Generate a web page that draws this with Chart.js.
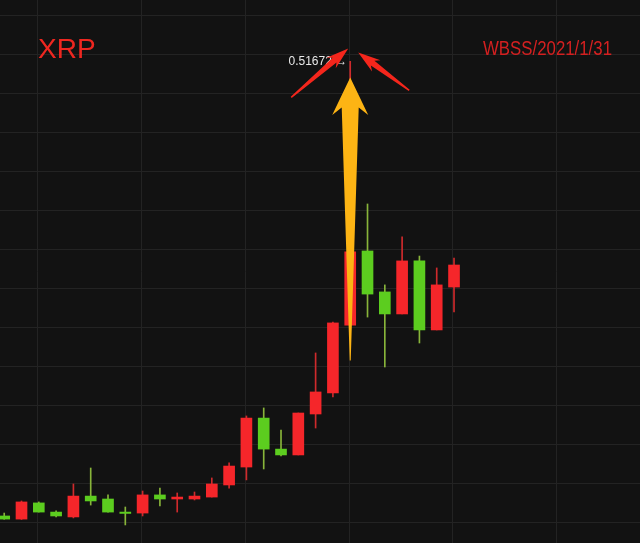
<!DOCTYPE html>
<html>
<head>
<meta charset="utf-8">
<script src="https://cdn.jsdelivr.net/npm/chart.js@4.4.1/dist/chart.umd.min.js"></script>
<style>
html, body { margin: 0; padding: 0; background: #121212; overflow: hidden; }
</style>
</head>
<body>
<canvas id="chart" width="640" height="543"></canvas>
<script>
/* XRP candles, red = up, green = down */
const opens  = [0.2836, 0.2820, 0.2903, 0.2856, 0.2831, 0.2938, 0.2923, 0.2856, 0.2851, 0.2944,
                0.2923, 0.2923, 0.2933, 0.2995, 0.3087, 0.3338, 0.3179, 0.3149, 0.3359, 0.3467,
                0.3815, 0.4195, 0.3985, 0.3872, 0.4144, 0.3790, 0.4010];
const highs  = [0.2851, 0.2913, 0.2908, 0.2862, 0.3000, 0.3082, 0.2944, 0.2882, 0.2964, 0.2979,
                0.2954, 0.2959, 0.3031, 0.3108, 0.3349, 0.3390, 0.3277, 0.3364, 0.3672, 0.3830,
                0.51672, 0.4436, 0.4021, 0.4267, 0.4169, 0.4108, 0.4159];
const lows   = [0.2819, 0.2818, 0.2856, 0.2831, 0.2826, 0.2892, 0.2856, 0.2790, 0.2836, 0.2887,
                0.2856, 0.2918, 0.2933, 0.2979, 0.3021, 0.3077, 0.3144, 0.3149, 0.3287, 0.3446,
                0.3790, 0.3856, 0.3600, 0.3872, 0.3723, 0.3790, 0.3882];
const closes = [0.2820, 0.2908, 0.2856, 0.2836, 0.2938, 0.2913, 0.2856, 0.2849, 0.2944, 0.2923,
                0.2933, 0.2938, 0.3000, 0.3092, 0.3338, 0.3179, 0.3149, 0.3364, 0.3472, 0.3826,
                0.4190, 0.3974, 0.3872, 0.4144, 0.3790, 0.4021, 0.4123];
const priceTicks = [0.28, 0.30, 0.32, 0.34, 0.36, 0.38, 0.40, 0.42, 0.44, 0.46, 0.48, 0.50, 0.52, 0.54];
const timeTicks  = [1.93, 7.93, 13.93, 19.93, 25.93, 31.93];
const coinName = 'XRP';
const stamp = 'WBSS/2021/1/31';

const UP = '#f5262a', DOWN = '#5ccd1f';
const UP_WICK = '#cf2a2c', DOWN_WICK = '#88b43a';
const isUp = opens.map((o, i) => closes[i] >= o);

function arrow(ctx, x0, y0, x1, y1, tailW, shaftW, headW, headLen, color) {
    const len = Math.hypot(x1 - x0, y1 - y0);
    const dx = (x1 - x0) / len, dy = (y1 - y0) / len;
    const nx = -dy, ny = dx;
    const bx = x1 - dx * headLen, by = y1 - dy * headLen;
    const wx = bx - dx * headLen * 0.25, wy = by - dy * headLen * 0.25;
    ctx.beginPath();
    ctx.moveTo(x0 + nx * tailW / 2, y0 + ny * tailW / 2);
    ctx.lineTo(bx + nx * shaftW / 2, by + ny * shaftW / 2);
    ctx.lineTo(wx + nx * headW / 2, wy + ny * headW / 2);
    ctx.lineTo(x1, y1);
    ctx.lineTo(wx - nx * headW / 2, wy - ny * headW / 2);
    ctx.lineTo(bx - nx * shaftW / 2, by - ny * shaftW / 2);
    ctx.lineTo(x0 - nx * tailW / 2, y0 - ny * tailW / 2);
    ctx.closePath();
    ctx.fillStyle = color;
    ctx.fill();
}

const background = {
    id: 'background',
    beforeDraw(chart) {
        const { ctx, width, height } = chart;
        ctx.save();
        ctx.fillStyle = '#121212';
        ctx.fillRect(0, 0, width, height);
        ctx.restore();
    }
};

const overlay = {
    id: 'overlay',
    afterDraw(chart) {
        const { ctx, scales: { x, y } } = chart;
        const peak = highs.indexOf(Math.max(...highs));
        const px = x.getPixelForValue(peak);
        const py = y.getPixelForValue(highs[peak]);
        ctx.save();

        // titles
        ctx.fillStyle = '#ee2720';
        ctx.font = '28px "Liberation Sans", Arial, sans-serif';
        ctx.textBaseline = 'alphabetic';
        ctx.fillText(coinName, 38, 58);

        ctx.fillStyle = '#d42020';
        ctx.font = '20px "Liberation Sans", Arial, sans-serif';
        const w = ctx.measureText(stamp).width;
        ctx.save();
        ctx.translate(483, 55);
        ctx.scale(129 / w, 1);
        ctx.fillText(stamp, 0, 0);
        ctx.restore();

        // peak label
        ctx.fillStyle = '#e8e8e8';
        ctx.font = '12px "Liberation Sans", "DejaVu Sans", sans-serif';
        ctx.textBaseline = 'middle';
        ctx.textAlign = 'right';
        ctx.fillText(highs[peak] + ' \u2192', px - 3, py);

        // yellow arrow up to the peak
        arrow(ctx, px, py + 299, px, py + 16, 1, 17, 36, 30, '#fdb414');

        // red arrows pointing at the peak
        arrow(ctx, px - 59, py + 36, px - 2, py - 13, 1.5, 6, 14, 18, '#f4261c');
        arrow(ctx, px + 59, py + 29, px + 8, py - 9, 1.5, 6, 14, 18, '#f4261c');
        ctx.restore();
    }
};

new Chart(document.getElementById('chart'), {
    type: 'bar',
    data: {
        datasets: [
            {
                label: 'wick',
                data: highs.map((h, i) => ({ x: i, y: [lows[i], h] })),
                backgroundColor: isUp.map(u => u ? UP_WICK : DOWN_WICK),
                barThickness: 1,
                grouped: false,
                order: 2,
            },
            {
                label: 'body',
                data: opens.map((o, i) => ({ x: i, y: [o, closes[i]] })),
                backgroundColor: isUp.map(u => u ? UP : DOWN),
                barThickness: 11,
                minBarLength: 1,
                grouped: false,
                order: 1,
            }
        ]
    },
    options: {
        responsive: false,
        animation: false,
        layout: { padding: 0 },
        plugins: { legend: { display: false }, tooltip: { enabled: false } },
        scales: {
            x: {
                type: 'linear',
                min: -0.243,
                max: 36.75,
                offset: false,
                afterBuildTicks: s => { s.ticks = timeTicks.map(v => ({ value: v })); },
                ticks: { display: false },
                grid: { color: '#232323', drawTicks: false, offset: false },
                border: { display: false },
            },
            y: {
                min: 0.26974,
                max: 0.5482,
                afterBuildTicks: s => { s.ticks = priceTicks.map(v => ({ value: v })); },
                ticks: { display: false },
                grid: { color: '#232323', drawTicks: false },
                border: { display: false },
            }
        }
    },
    plugins: [background, overlay]
});
</script>
</body>
</html>
